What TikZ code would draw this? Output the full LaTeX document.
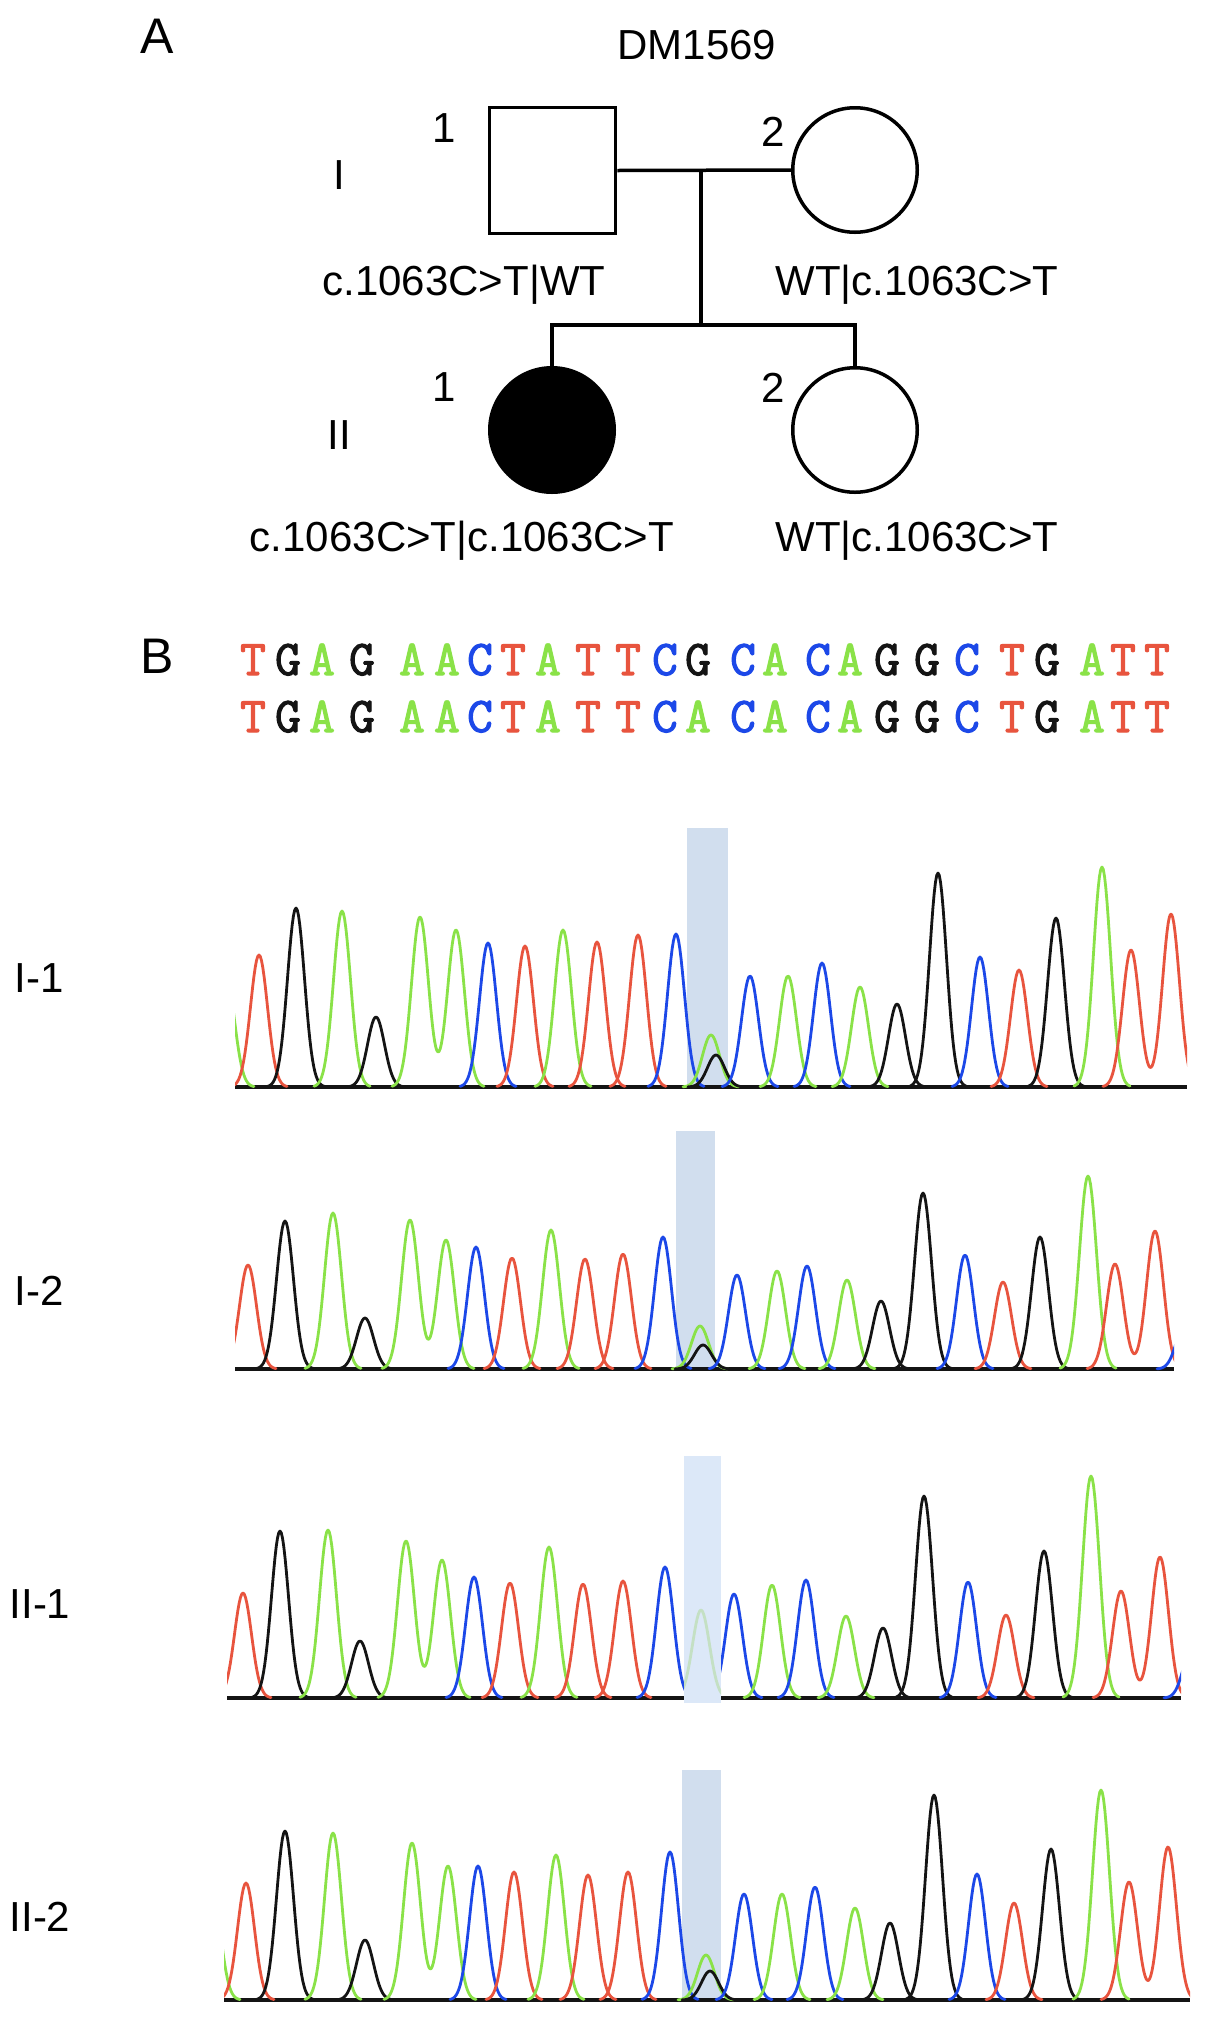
\documentclass[tikz,border=0pt]{standalone}
\usepackage{fontspec}
\setmainfont{Liberation Sans}
\newfontfamily\seqfont{Latin Modern Mono}[FakeBold=2.2]
\definecolor{tr}{RGB}{232,84,62}
\definecolor{tg}{RGB}{138,226,72}
\definecolor{tb}{RGB}{28,72,232}
\definecolor{tk}{RGB}{20,20,20}
\definecolor{hl}{RGB}{209,222,238}
\definecolor{hlb}{RGB}{220,232,248}
\definecolor{tgfade}{RGB}{196,224,196}
\tikzset{
  ped/.style={draw=black, line width=3.5pt, inner sep=0pt},
  pline/.style={draw=black, line width=3.5pt},
  lbl/.style={anchor=base, inner sep=0pt, font=\fontsize{42}{50}\selectfont},
  panel/.style={anchor=base, inner sep=0pt, font=\fontsize{50}{60}\selectfont},
  seq/.style={anchor=base, inner sep=0pt, font=\seqfont\fontsize{50}{58}\selectfont},
  trace/.style={line width=2.8pt, line join=round, line cap=round},
  baseln/.style={line width=3.2pt, tk},
}
\newcommand\pk[3]{\draw[trace,#1] plot[domain=#2-28:#2+28,samples=45] (\x,{\bl-#3*exp(-((\x-#2)*(\x-#2))/145)});}
\newcommand\pkk[5]{\draw[trace,#1] plot[domain=#2-28:#4+28,samples=85] (\x,{\bl-#3*exp(-((\x-#2)*(\x-#2))/145)-#5*exp(-((\x-#4)*(\x-#4))/145)});}
\begin{document}
\begin{tikzpicture}[x=1pt,y=-1pt]
\fill[white] (0,0) rectangle (1205,2022);
\useasboundingbox (0,0) rectangle (1205,2022);

% ---------- Panel A: pedigree ----------
\node[panel] (labA) at (157,53) {A};
\node[lbl] (fam) at (697,59) {DM1569};
\node[lbl] (genI) at (339,189) {I};
\node[lbl] (genII) at (339,449) {II};
\node[lbl] (n11) at (444,142) {1};
\node[lbl] (n12) at (773,146) {2};
\node[lbl] (n21) at (444,401) {1};
\node[lbl] (n22) at (773,402) {2};

\node[ped, rectangle, minimum size=126pt] (I1) at (552.5,170.5) {};
\node[ped, circle, minimum size=124.5pt] (I2) at (855,170) {};
\node[ped, circle, fill=black, minimum size=124.5pt] (II1) at (552,430) {};
\node[ped, circle, minimum size=124.5pt] (II2) at (855,430) {};

\coordinate (mate) at (701,170);
\coordinate (sib) at (701,325);
\coordinate (sibL) at (552,325);
\coordinate (sibR) at (855,325);
\draw[pline] (I1.east) -- (I2.west);
\draw[pline] (mate) -- (sib);
\draw[pline, line cap=rect] (sibL) -- (sibR);
\draw[pline] (sibL) -- (II1.north);
\draw[pline] (sibR) -- (II2.north);

\node[lbl] (g11) at (464,295) {c.1063C>T|WT};
\node[lbl] (g12) at (917,295) {WT|c.1063C>T};
\node[lbl] (g21) at (462,551) {c.1063C>T|c.1063C>T};
\node[lbl] (g22) at (917,551) {WT|c.1063C>T};

% ---------- Panel B: sequences ----------
\node[panel] (labB) at (157,673) {B};
\foreach \px/\l/\c [count=\i] in {253/T/tr,288/G/tk,322/A/tg,362/G/tk,412/A/tg,447/A/tg,480/C/tb,513/T/tr,548/A/tg,588/T/tr,628/T/tr,665/C/tb,698/G/tk,743/C/tb,775/A/tg,818/C/tb,850/A/tg,887/G/tk,927/G/tk,967/C/tb,1012/T/tr,1047/G/tk,1092/A/tg,1123/T/tr,1157/T/tr}
  \node[seq, text=\c] (ref\i) at (\px,675) {\l};
\foreach \px/\l/\c [count=\i] in {253/T/tr,288/G/tk,322/A/tg,362/G/tk,412/A/tg,447/A/tg,480/C/tb,513/T/tr,548/A/tg,588/T/tr,628/T/tr,665/C/tb,698/A/tg,743/C/tb,775/A/tg,818/C/tb,850/A/tg,887/G/tk,927/G/tk,967/C/tb,1012/T/tr,1047/G/tk,1092/A/tg,1123/T/tr,1157/T/tr}
  \node[seq, text=\c] (mut\i) at (\px,732) {\l};

% ---------- labels ----------
\node[lbl] (lI1) at (39,992) {I-1};
\node[lbl] (lI2) at (39,1305) {I-2};
\node[lbl] (lII1) at (40,1618) {II-1};
\node[lbl] (lII2) at (40,1931) {II-2};

% ---------- chromatogram I-1 ----------
\def\bl{1087}
\fill[hl] (687,828) rectangle (728,\bl);
\begin{scope}
\clip (235,800) rectangle (1187,\bl+6);
\draw[baseln] (235,\bl) -- (1187,\bl);
\pk{tg}{226}{110}
\pk{tr}{259}{132}
\pk{tk}{296}{179}
\pk{tg}{342}{176}
\pk{tk}{376}{70}
\pkk{tg}{420}{170}{456}{157}
\pk{tb}{488}{144}
\pk{tr}{525}{141}
\pk{tg}{563}{157}
\pk{tr}{597}{145}
\pk{tr}{638}{152}
\pk{tb}{676}{153}
\pk{tg}{711}{52}
\pk{tk}{716}{32}
\pk{tb}{750}{111}
\pk{tg}{788}{111}
\pk{tb}{822}{124}
\pk{tg}{860}{100}
\pk{tk}{897}{83}
\pk{tk}{938}{214}
\pk{tb}{980}{130}
\pk{tr}{1019}{117}
\pk{tk}{1056}{169}
\pk{tg}{1102}{220}
\pkk{tr}{1131}{137}{1171}{173}
\end{scope}

% ---------- chromatogram I-2 ----------
\def\bl{1369}
\fill[hl] (676,1131) rectangle (715,\bl);
\begin{scope}
\clip (235,1100) rectangle (1174,\bl+6);
\draw[baseln] (235,\bl) -- (1174,\bl);
\pk{tr}{248}{104}
\pk{tk}{285}{148}
\pk{tg}{333}{156}
\pk{tk}{365}{51}
\pkk{tg}{410}{149}{446}{129}
\pk{tb}{476}{122}
\pk{tr}{512}{111}
\pk{tg}{551}{139}
\pk{tr}{585}{110}
\pk{tr}{623}{115}
\pk{tb}{663}{132}
\pk{tg}{700}{43}
\pk{tk}{703}{24}
\pk{tb}{737}{94}
\pk{tg}{777}{98}
\pk{tb}{807}{103}
\pk{tg}{847}{89}
\pk{tk}{881}{68}
\pk{tk}{923}{176}
\pk{tb}{965}{114}
\pk{tr}{1003}{87}
\pk{tk}{1040}{132}
\pk{tg}{1088}{193}
\pkk{tr}{1115}{105}{1155}{138}
\pk{tb}{1185}{45}
\end{scope}

% ---------- chromatogram II-1 ----------
\def\bl{1698}
\begin{scope}
\clip (227,1430) rectangle (1181,\bl+6);
\draw[baseln] (227,\bl) -- (1181,\bl);
\pk{tr}{243}{105}
\pk{tk}{280}{167}
\pk{tg}{328}{168}
\pk{tk}{360}{57}
\pkk{tg}{406}{157}{442}{138}
\pk{tb}{474}{121}
\pk{tr}{510}{115}
\pk{tg}{549}{151}
\pk{tr}{583}{114}
\pk{tr}{623}{117}
\pk{tb}{665}{131}
\pk{tb}{734}{104}
\pk{tg}{772}{113}
\pk{tb}{806}{118}
\pk{tg}{846}{82}
\pk{tk}{883}{70}
\pk{tk}{924}{202}
\pk{tb}{968}{116}
\pk{tr}{1006}{83}
\pk{tk}{1044}{147}
\pk{tg}{1091}{222}
\pkk{tr}{1121}{107}{1160}{141}
\pk{tb}{1192}{50}
\end{scope}
\fill[hlb] (684,1456) rectangle (721,1703);
\begin{scope}
\clip (684,1456) rectangle (721,1703);
\pk{tgfade}{701}{88}
\end{scope}

% ---------- chromatogram II-2 ----------
\def\bl{2000}
\fill[hl] (682,1770) rectangle (721,\bl);
\begin{scope}
\clip (224,1740) rectangle (1190,\bl+6);
\draw[baseln] (224,\bl) -- (1190,\bl);
\pk{tg}{212}{110}
\pk{tr}{246}{117}
\pk{tk}{285}{169}
\pk{tg}{333}{167}
\pk{tk}{365}{60}
\pkk{tg}{412}{157}{448}{134}
\pk{tb}{478}{134}
\pk{tr}{514}{128}
\pk{tg}{556}{145}
\pk{tr}{588}{125}
\pk{tr}{628}{128}
\pk{tb}{670}{148}
\pk{tg}{706}{45}
\pk{tk}{710}{29}
\pk{tb}{744}{106}
\pk{tg}{782}{106}
\pk{tb}{815}{113}
\pk{tg}{855}{92}
\pk{tk}{890}{77}
\pk{tk}{934}{205}
\pk{tb}{977}{126}
\pk{tr}{1014}{97}
\pk{tk}{1051}{151}
\pk{tg}{1101}{210}
\pkk{tr}{1129}{118}{1168}{153}
\end{scope}
\end{tikzpicture}
\end{document}
